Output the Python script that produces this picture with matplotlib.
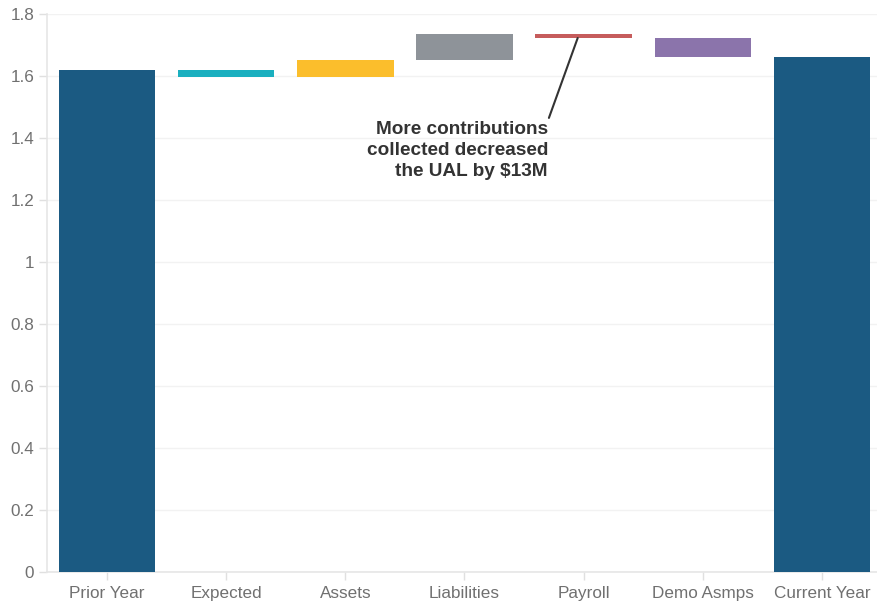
import matplotlib
matplotlib.use("Agg")
import matplotlib.pyplot as plt
import numpy as np

plt.rcParams['font.family'] = ['Liberation Sans', 'DejaVu Sans']

categories = ["Prior Year", "Expected", "Assets", "Liabilities", "Payroll", "Demo Asmps", "Current Year"]
prior_year = 1.620
changes = [-0.022, 0.055, 0.084, -0.013, -0.062]
colors = ["#1b5a82", "#1aafbf", "#fbbe2c", "#8e9399", "#c65c5c", "#8b74ab", "#1b5a82"]
yticks = [0, 0.2, 0.4, 0.6, 0.8, 1, 1.2, 1.4, 1.6, 1.8]
ytick_labels = ["0", "0.2", "0.4", "0.6", "0.8", "1", "1.2", "1.4", "1.6", "1.8"]
note = "More contributions\ncollected decreased\nthe UAL by $13M"

# waterfall: floating bars between running totals
running = [prior_year]
for c in changes:
    running.append(running[-1] + c)
current_year = running[-1]

bottoms = [0]
heights = [prior_year]
for i, c in enumerate(changes):
    start = running[i]
    end = running[i + 1]
    bottoms.append(min(start, end))
    heights.append(abs(c))
bottoms.append(0)
heights.append(current_year)

fig = plt.figure(figsize=(8.78, 6.01), dpi=100)
ax = fig.add_axes([0.054, 0.048, 0.946, 0.928])

x = np.arange(len(categories))
ax.bar(x, heights, bottom=bottoms, width=0.81, color=colors, zorder=3)

ax.set_xlim(-0.5, 6.47)
ax.set_ylim(0, 1.8)
ax.set_yticks(yticks)
ax.set_yticklabels(ytick_labels)
ax.set_xticks(x)
ax.set_xticklabels(categories)

ax.grid(axis='y', color='#f2f2f2', linewidth=1, zorder=0)
ax.set_axisbelow(True)
for s in ['top', 'right']:
    ax.spines[s].set_visible(False)
ax.spines['left'].set_color('#e6e6e6')
ax.spines['bottom'].set_color('#e6e6e6')
ax.spines['left'].set_linewidth(1.2)
ax.spines['bottom'].set_linewidth(1.2)
ax.tick_params(axis='both', colors='#e0e0e0', labelcolor='#707070', labelsize=12.3, length=6, width=1)
ax.tick_params(axis='x', pad=4)

# callout for the payroll bar
payroll_idx = 4
ax.annotate(note,
            xy=(payroll_idx - 0.05, running[4]),
            xytext=(3.7, 1.457),
            ha='right', va='top', fontsize=13.7, fontweight='bold', color='#333333',
            linespacing=1.3,
            arrowprops=dict(arrowstyle='-', color='#333333', lw=1.5,
                            shrinkA=0, shrinkB=0, relpos=(1.0, 1.0)),
            zorder=5)

fig.savefig("out.png", dpi=100)
